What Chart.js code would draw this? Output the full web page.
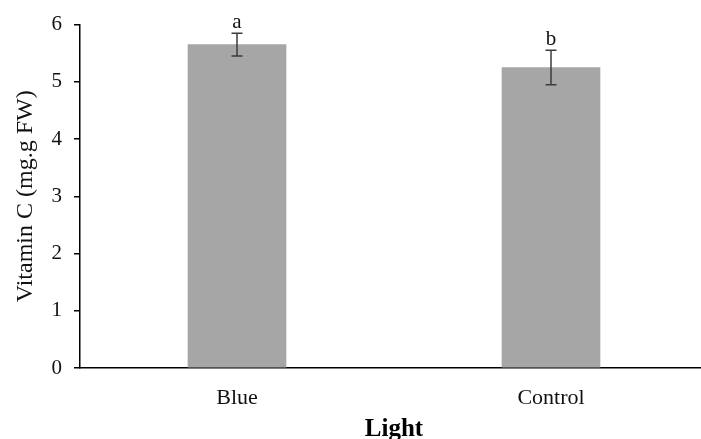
<!DOCTYPE html>
<html>
<head>
<meta charset="utf-8">
<script src="https://cdn.jsdelivr.net/npm/chart.js@4"></script>
<style>
  html, body { margin: 0; padding: 0; background: #fff; }
  #wrap { width: 701px; height: 439px; overflow: hidden; }
</style>
</head>
<body>
<div id="wrap"><canvas id="grafik" width="708" height="439"></canvas></div>
<script>
const categories = ["Blue", "Control"];
const vitaminC = [5.65, 5.25];
const stdErr = [0.2, 0.3];
const letters = ["a", "b"];
const yMin = 0, yMax = 6, yStep = 1;

// error bars + significance letters
const errorBars = {
    id: "errorBars",
    afterDatasetsDraw(chart) {
        const ctx = chart.ctx;
        const x = chart.scales.x, y = chart.scales.y;
        ctx.save();
        for (let i = 0; i < vitaminC.length; i++) {
            let cx = x.getPixelForValue(i);
            let top = y.getPixelForValue(vitaminC[i] + stdErr[i]);
            let bot = y.getPixelForValue(vitaminC[i] - stdErr[i]);
            ctx.strokeStyle = "#3c3c3c";
            ctx.lineWidth = 1.5;
            ctx.beginPath();
            ctx.moveTo(cx, top); ctx.lineTo(cx, bot);
            ctx.moveTo(cx - 5.5, top); ctx.lineTo(cx + 5.5, top);
            ctx.moveTo(cx - 5.5, bot); ctx.lineTo(cx + 5.5, bot);
            ctx.stroke();
            ctx.fillStyle = "#111";
            ctx.font = "21px 'Liberation Serif'";
            ctx.textAlign = "center";
            ctx.textBaseline = "alphabetic";
            ctx.fillText(letters[i], cx, top - 5);
        }
        ctx.restore();
    }
};

new Chart(document.getElementById("grafik").getContext("2d"), {
    type: "bar",
    data: {
        labels: categories,
        datasets: [{
            data: vitaminC,
            backgroundColor: "#a6a6a6",
            borderWidth: 0,
            barThickness: 98
        }]
    },
    options: {
        responsive: false,
        animation: false,
        layout: { padding: { top: 24, right: 0, left: 0, bottom: 0 } },
        plugins: { legend: { display: false }, tooltip: { enabled: false } },
        scales: {
            x: {
                grid: { display: false },
                border: { display: true, color: "#000", width: 1.5 },
                ticks: { color: "#111", padding: 9, font: { family: "Liberation Serif", size: 22 } },
                title: {
                    display: true,
                    text: "Light",
                    color: "#000",
                    padding: { top: 0, bottom: -3 },
                    font: { family: "Liberation Serif", size: 25, weight: "bold", lineHeight: 1 }
                },
                afterFit(scale) { scale.height = 71; }
            },
            y: {
                min: yMin,
                max: yMax,
                grid: { drawOnChartArea: false, drawTicks: true, tickLength: 6, color: "#000", lineWidth: 1.5 },
                border: { display: true, color: "#000", width: 1.5 },
                ticks: { stepSize: yStep, color: "#111", padding: 12, font: { family: "Liberation Serif", size: 21 } },
                title: {
                    display: true,
                    text: "Vitamin C (mg.g FW)",
                    color: "#111",
                    padding: { top: 14, bottom: 0 },
                    font: { family: "Liberation Serif", size: 24, lineHeight: 1 }
                },
                afterFit(scale) { scale.width = 80; }
            }
        }
    },
    plugins: [errorBars]
});
</script>
</body>
</html>
